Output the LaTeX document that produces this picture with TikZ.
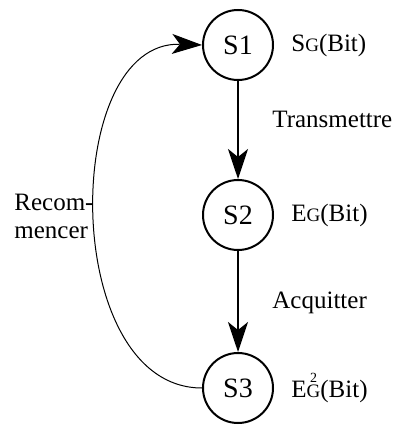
\documentclass[tikz,border=0pt]{standalone}
\usepackage{fontspec}
\setmainfont{Liberation Serif}
\usetikzlibrary{arrows.meta}

\newcommand{\smallG}{{\fontsize{9.5}{10}\selectfont G}}
\newcommand{\sqG}{\smallG\llap{\raisebox{7.3pt}{\fontsize{7}{7}\selectfont 2}\hspace{1.7pt}}}

\begin{document}
\begin{tikzpicture}[x=0.5pt, y=-0.5pt,
	etat/.style = {draw, circle, line width = 1pt, minimum size = 35pt, inner sep = 0pt, font = \fontsize{14}{16}\selectfont},
	lbl/.style = {anchor = west, inner sep = 0pt, font = \fontsize{12.5}{14}\selectfont},
	fleche/.style = {line width = 1pt, -{Stealth[length = 15pt, width = 10pt, inset = 4pt]}}]
	\def\cx{238};
	
	\useasboundingbox (0,0) rectangle (404,432);
	
	\node [etat] (s1) at (\cx,45) {S1};
	\node [etat] (s2) at (\cx,215) {S2};
	\node [etat] (s3) at (\cx,388) {S3};
	
	\node [lbl] (e1) at (291,45) {S\smallG(Bit)};
	\node [lbl] (e2) at (291,215) {E\smallG(Bit)};
	\node [lbl] (e3) at (291,388) {E\sqG(Bit)};
	
	\draw [fleche] (s1) -- (s2);
	\draw [fleche] (s2) -- (s3);
	\node [lbl, anchor = base west] (t1) at (272,128) {Transmettre};
	\node [lbl, anchor = base west] (t2) at (272,308) {Acquitter};
	
	\draw [line width = 0.5pt, -{Stealth[length = 15pt, width = 10pt, inset = 4pt]}] (s3.west) .. controls (60,388) and (60,40) .. (s1.west);
	
	\node [lbl, align = left] (r) at (14,216) {Recom-\\mencer};
\end{tikzpicture}
\end{document}
